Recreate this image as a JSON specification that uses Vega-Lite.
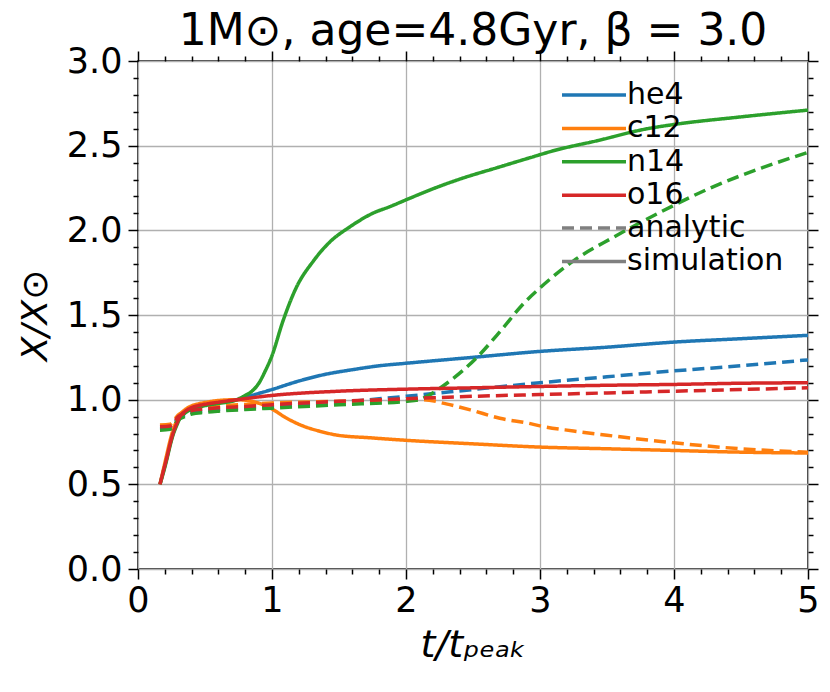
{
  "$schema": "https://vega.github.io/schema/vega-lite/v6.json",
  "width": 670,
  "height": 508,
  "autosize": {"type": "none"},
  "padding": {"left": 138, "top": 61, "right": 22, "bottom": 123},
  "background": "white",
  "config": {
    "font": "DejaVu Sans",
    "view": {"stroke": "black", "strokeWidth": 1.5},
    "axis": {"labelFont": "DejaVu Sans", "titleFont": "DejaVu Sans", "titleFontWeight": "normal", "labelColor": "black", "titleColor": "black", "tickColor": "black", "tickWidth": 1.5, "domain": false, "gridColor": "#b0b0b0", "gridWidth": 1.3},
    "legend": {"labelFont": "DejaVu Sans", "labelColor": "black"}
  },
  "title": {"text": "1M⊙, age=4.8Gyr, β = 3.0", "fontSize": 44, "font": "DejaVu Sans", "fontWeight": "normal", "anchor": "middle", "frame": "group", "offset": -10, "color": "black"},
  "datasets": {
    "d": [
      {"s":"he4","k":"analytic","t":0.164,"y":0.83},{"s":"he4","k":"analytic","t":0.24,"y":0.835},{"s":"he4","k":"analytic","t":0.27,"y":0.86},{"s":"he4","k":"analytic","t":0.3,"y":0.89},{"s":"he4","k":"analytic","t":0.35,"y":0.91},{"s":"he4","k":"analytic","t":0.4,"y":0.925},{"s":"he4","k":"analytic","t":0.5,"y":0.935},{"s":"he4","k":"analytic","t":0.6,"y":0.942},{"s":"he4","k":"analytic","t":0.8,"y":0.952},{"s":"he4","k":"analytic","t":1.0,"y":0.96},{"s":"he4","k":"analytic","t":1.5,"y":0.985},{"s":"he4","k":"analytic","t":1.8,"y":1.005},{"s":"he4","k":"analytic","t":2.0,"y":1.02},{"s":"he4","k":"analytic","t":2.5,"y":1.06},{"s":"he4","k":"analytic","t":3.0,"y":1.10},{"s":"he4","k":"analytic","t":3.5,"y":1.135},{"s":"he4","k":"analytic","t":4.0,"y":1.17},{"s":"he4","k":"analytic","t":4.5,"y":1.20},{"s":"he4","k":"analytic","t":5.0,"y":1.235},
      {"s":"he4","k":"simulation","t":0.164,"y":0.50},{"s":"he4","k":"simulation","t":0.19,"y":0.58},{"s":"he4","k":"simulation","t":0.216,"y":0.66},{"s":"he4","k":"simulation","t":0.24,"y":0.74},{"s":"he4","k":"simulation","t":0.261,"y":0.80},{"s":"he4","k":"simulation","t":0.29,"y":0.86},{"s":"he4","k":"simulation","t":0.313,"y":0.90},{"s":"he4","k":"simulation","t":0.35,"y":0.93},{"s":"he4","k":"simulation","t":0.39,"y":0.95},{"s":"he4","k":"simulation","t":0.45,"y":0.965},{"s":"he4","k":"simulation","t":0.515,"y":0.975},{"s":"he4","k":"simulation","t":0.6,"y":0.985},{"s":"he4","k":"simulation","t":0.74,"y":1.0},{"s":"he4","k":"simulation","t":0.85,"y":1.025},{"s":"he4","k":"simulation","t":1.0,"y":1.06},{"s":"he4","k":"simulation","t":1.2,"y":1.11},{"s":"he4","k":"simulation","t":1.4,"y":1.15},{"s":"he4","k":"simulation","t":1.6,"y":1.177},{"s":"he4","k":"simulation","t":1.8,"y":1.20},{"s":"he4","k":"simulation","t":2.0,"y":1.215},{"s":"he4","k":"simulation","t":2.5,"y":1.25},{"s":"he4","k":"simulation","t":3.0,"y":1.285},{"s":"he4","k":"simulation","t":3.5,"y":1.31},{"s":"he4","k":"simulation","t":4.0,"y":1.34},{"s":"he4","k":"simulation","t":4.5,"y":1.36},{"s":"he4","k":"simulation","t":5.0,"y":1.38},
      {"s":"c12","k":"analytic","t":0.164,"y":0.85},{"s":"c12","k":"analytic","t":0.24,"y":0.855},{"s":"c12","k":"analytic","t":0.27,"y":0.88},{"s":"c12","k":"analytic","t":0.3,"y":0.91},{"s":"c12","k":"analytic","t":0.35,"y":0.93},{"s":"c12","k":"analytic","t":0.4,"y":0.945},{"s":"c12","k":"analytic","t":0.5,"y":0.955},{"s":"c12","k":"analytic","t":0.6,"y":0.962},{"s":"c12","k":"analytic","t":0.8,"y":0.972},{"s":"c12","k":"analytic","t":1.0,"y":0.98},{"s":"c12","k":"analytic","t":1.5,"y":0.99},{"s":"c12","k":"analytic","t":2.0,"y":1.0},{"s":"c12","k":"analytic","t":2.13,"y":1.0},{"s":"c12","k":"analytic","t":2.3,"y":0.975},{"s":"c12","k":"analytic","t":2.48,"y":0.94},{"s":"c12","k":"analytic","t":2.7,"y":0.89},{"s":"c12","k":"analytic","t":2.92,"y":0.86},{"s":"c12","k":"analytic","t":3.0,"y":0.845},{"s":"c12","k":"analytic","t":3.25,"y":0.815},{"s":"c12","k":"analytic","t":3.5,"y":0.79},{"s":"c12","k":"analytic","t":4.0,"y":0.745},{"s":"c12","k":"analytic","t":4.5,"y":0.71},{"s":"c12","k":"analytic","t":5.0,"y":0.69},
      {"s":"c12","k":"simulation","t":0.164,"y":0.50},{"s":"c12","k":"simulation","t":0.19,"y":0.59},{"s":"c12","k":"simulation","t":0.216,"y":0.68},{"s":"c12","k":"simulation","t":0.24,"y":0.76},{"s":"c12","k":"simulation","t":0.261,"y":0.82},{"s":"c12","k":"simulation","t":0.29,"y":0.875},{"s":"c12","k":"simulation","t":0.313,"y":0.91},{"s":"c12","k":"simulation","t":0.35,"y":0.94},{"s":"c12","k":"simulation","t":0.39,"y":0.96},{"s":"c12","k":"simulation","t":0.45,"y":0.975},{"s":"c12","k":"simulation","t":0.515,"y":0.985},{"s":"c12","k":"simulation","t":0.6,"y":0.995},{"s":"c12","k":"simulation","t":0.74,"y":1.0},{"s":"c12","k":"simulation","t":0.85,"y":0.99},{"s":"c12","k":"simulation","t":0.95,"y":0.965},{"s":"c12","k":"simulation","t":1.0,"y":0.945},{"s":"c12","k":"simulation","t":1.1,"y":0.895},{"s":"c12","k":"simulation","t":1.23,"y":0.845},{"s":"c12","k":"simulation","t":1.35,"y":0.815},{"s":"c12","k":"simulation","t":1.49,"y":0.79},{"s":"c12","k":"simulation","t":1.73,"y":0.775},{"s":"c12","k":"simulation","t":2.0,"y":0.76},{"s":"c12","k":"simulation","t":2.48,"y":0.74},{"s":"c12","k":"simulation","t":3.0,"y":0.72},{"s":"c12","k":"simulation","t":3.5,"y":0.71},{"s":"c12","k":"simulation","t":4.0,"y":0.70},{"s":"c12","k":"simulation","t":4.5,"y":0.69},{"s":"c12","k":"simulation","t":5.0,"y":0.685},
      {"s":"n14","k":"analytic","t":0.164,"y":0.82},{"s":"n14","k":"analytic","t":0.24,"y":0.825},{"s":"n14","k":"analytic","t":0.27,"y":0.85},{"s":"n14","k":"analytic","t":0.3,"y":0.88},{"s":"n14","k":"analytic","t":0.35,"y":0.90},{"s":"n14","k":"analytic","t":0.4,"y":0.915},{"s":"n14","k":"analytic","t":0.5,"y":0.925},{"s":"n14","k":"analytic","t":0.6,"y":0.932},{"s":"n14","k":"analytic","t":0.8,"y":0.942},{"s":"n14","k":"analytic","t":1.0,"y":0.95},{"s":"n14","k":"analytic","t":1.5,"y":0.97},{"s":"n14","k":"analytic","t":2.0,"y":0.99},{"s":"n14","k":"analytic","t":2.1,"y":1.0},{"s":"n14","k":"analytic","t":2.2,"y":1.04},{"s":"n14","k":"analytic","t":2.31,"y":1.10},{"s":"n14","k":"analytic","t":2.53,"y":1.25},{"s":"n14","k":"analytic","t":2.71,"y":1.41},{"s":"n14","k":"analytic","t":2.88,"y":1.57},{"s":"n14","k":"analytic","t":3.0,"y":1.66},{"s":"n14","k":"analytic","t":3.25,"y":1.82},{"s":"n14","k":"analytic","t":3.55,"y":1.96},{"s":"n14","k":"analytic","t":3.88,"y":2.10},{"s":"n14","k":"analytic","t":4.3,"y":2.26},{"s":"n14","k":"analytic","t":4.66,"y":2.37},{"s":"n14","k":"analytic","t":5.0,"y":2.46},
      {"s":"n14","k":"simulation","t":0.164,"y":0.50},{"s":"n14","k":"simulation","t":0.19,"y":0.57},{"s":"n14","k":"simulation","t":0.216,"y":0.65},{"s":"n14","k":"simulation","t":0.24,"y":0.73},{"s":"n14","k":"simulation","t":0.261,"y":0.79},{"s":"n14","k":"simulation","t":0.29,"y":0.85},{"s":"n14","k":"simulation","t":0.313,"y":0.89},{"s":"n14","k":"simulation","t":0.35,"y":0.92},{"s":"n14","k":"simulation","t":0.39,"y":0.94},{"s":"n14","k":"simulation","t":0.45,"y":0.955},{"s":"n14","k":"simulation","t":0.515,"y":0.967},{"s":"n14","k":"simulation","t":0.6,"y":0.978},{"s":"n14","k":"simulation","t":0.72,"y":0.995},{"s":"n14","k":"simulation","t":0.8,"y":1.025},{"s":"n14","k":"simulation","t":0.85,"y":1.05},{"s":"n14","k":"simulation","t":0.9,"y":1.095},{"s":"n14","k":"simulation","t":0.95,"y":1.17},{"s":"n14","k":"simulation","t":1.0,"y":1.26},{"s":"n14","k":"simulation","t":1.08,"y":1.46},{"s":"n14","k":"simulation","t":1.18,"y":1.66},{"s":"n14","k":"simulation","t":1.31,"y":1.82},{"s":"n14","k":"simulation","t":1.43,"y":1.93},{"s":"n14","k":"simulation","t":1.58,"y":2.02},{"s":"n14","k":"simulation","t":1.75,"y":2.10},{"s":"n14","k":"simulation","t":1.88,"y":2.14},{"s":"n14","k":"simulation","t":2.03,"y":2.19},{"s":"n14","k":"simulation","t":2.25,"y":2.26},{"s":"n14","k":"simulation","t":2.43,"y":2.31},{"s":"n14","k":"simulation","t":2.68,"y":2.37},{"s":"n14","k":"simulation","t":2.93,"y":2.43},{"s":"n14","k":"simulation","t":3.1,"y":2.47},{"s":"n14","k":"simulation","t":3.43,"y":2.53},{"s":"n14","k":"simulation","t":3.8,"y":2.60},{"s":"n14","k":"simulation","t":4.0,"y":2.625},{"s":"n14","k":"simulation","t":4.5,"y":2.67},{"s":"n14","k":"simulation","t":5.0,"y":2.71},
      {"s":"o16","k":"analytic","t":0.164,"y":0.84},{"s":"o16","k":"analytic","t":0.24,"y":0.845},{"s":"o16","k":"analytic","t":0.27,"y":0.87},{"s":"o16","k":"analytic","t":0.3,"y":0.90},{"s":"o16","k":"analytic","t":0.35,"y":0.92},{"s":"o16","k":"analytic","t":0.4,"y":0.935},{"s":"o16","k":"analytic","t":0.5,"y":0.945},{"s":"o16","k":"analytic","t":0.6,"y":0.952},{"s":"o16","k":"analytic","t":0.8,"y":0.96},{"s":"o16","k":"analytic","t":1.0,"y":0.97},{"s":"o16","k":"analytic","t":1.5,"y":0.99},{"s":"o16","k":"analytic","t":2.0,"y":1.005},{"s":"o16","k":"analytic","t":2.5,"y":1.02},{"s":"o16","k":"analytic","t":3.0,"y":1.03},{"s":"o16","k":"analytic","t":3.5,"y":1.04},{"s":"o16","k":"analytic","t":4.0,"y":1.05},{"s":"o16","k":"analytic","t":4.5,"y":1.06},{"s":"o16","k":"analytic","t":5.0,"y":1.07},
      {"s":"o16","k":"simulation","t":0.164,"y":0.50},{"s":"o16","k":"simulation","t":0.19,"y":0.58},{"s":"o16","k":"simulation","t":0.216,"y":0.66},{"s":"o16","k":"simulation","t":0.24,"y":0.74},{"s":"o16","k":"simulation","t":0.261,"y":0.80},{"s":"o16","k":"simulation","t":0.29,"y":0.86},{"s":"o16","k":"simulation","t":0.313,"y":0.90},{"s":"o16","k":"simulation","t":0.35,"y":0.93},{"s":"o16","k":"simulation","t":0.39,"y":0.95},{"s":"o16","k":"simulation","t":0.45,"y":0.965},{"s":"o16","k":"simulation","t":0.515,"y":0.975},{"s":"o16","k":"simulation","t":0.6,"y":0.985},{"s":"o16","k":"simulation","t":0.74,"y":1.0},{"s":"o16","k":"simulation","t":1.0,"y":1.025},{"s":"o16","k":"simulation","t":1.5,"y":1.05},{"s":"o16","k":"simulation","t":2.0,"y":1.062},{"s":"o16","k":"simulation","t":2.5,"y":1.07},{"s":"o16","k":"simulation","t":3.0,"y":1.078},{"s":"o16","k":"simulation","t":3.5,"y":1.085},{"s":"o16","k":"simulation","t":4.0,"y":1.09},{"s":"o16","k":"simulation","t":4.5,"y":1.097},{"s":"o16","k":"simulation","t":5.0,"y":1.10}
    ]
  },
  "data": {"name": "d"},
  "layer": [
    {
      "mark": {"type": "line", "strokeWidth": 3.5, "clip": true, "interpolate": "monotone"},
      "encoding": {
        "x": {"field": "t", "type": "quantitative", "scale": {"domain": [0, 5], "nice": false},
          "axis": {"orient": "bottom", "title": "t/tₚₑₐₖ", "titleFontSize": 38, "titleFontStyle": "italic", "titlePadding": 8, "labelFontSize": 35, "labelPadding": 4, "labelOverlap": false, "labelFlush": false,
            "values": [0,0.2,0.4,0.6,0.8,1,1.2,1.4,1.6,1.8,2,2.2,2.4,2.6,2.8,3,3.2,3.4,3.6,3.8,4,4.2,4.4,4.6,4.8,5],
            "labelExpr": "abs(datum.value - round(datum.value)) < 0.001 ? format(datum.value, 'd') : ''",
            "tickSize": {"condition": {"test": "abs(datum.value - round(datum.value)) < 0.001", "value": 10}, "value": 5},
            "gridOpacity": {"condition": {"test": "abs(datum.value - round(datum.value)) < 0.001", "value": 1}, "value": 0}}},
        "y": {"field": "y", "type": "quantitative", "scale": {"domain": [0, 3], "nice": false, "zero": false},
          "axis": {"orient": "left", "title": "X/X⊙", "titleFontSize": 36, "titleFontStyle": "italic", "titlePadding": 12, "labelFontSize": 35, "labelPadding": 6, "labelOverlap": false, "labelFlush": false,
            "values": [0,0.1,0.2,0.3,0.4,0.5,0.6,0.7,0.8,0.9,1,1.1,1.2,1.3,1.4,1.5,1.6,1.7,1.8,1.9,2,2.1,2.2,2.3,2.4,2.5,2.6,2.7,2.8,2.9,3],
            "labelExpr": "abs(datum.value*2 - round(datum.value*2)) < 0.001 ? format(datum.value, '.1f') : ''",
            "tickSize": {"condition": {"test": "abs(datum.value*2 - round(datum.value*2)) < 0.001", "value": 10}, "value": 5},
            "gridOpacity": {"condition": {"test": "abs(datum.value*2 - round(datum.value*2)) < 0.001", "value": 1}, "value": 0}}},
        "color": {"field": "s", "type": "nominal", "scale": {"domain": ["he4", "c12", "n14", "o16"], "range": ["#1f77b4", "#ff7f0e", "#2ca02c", "#d62728"]},
          "legend": {"orient": "none", "legendX": 424, "legendY": 19, "title": null, "padding": 0, "rowPadding": 3.4, "symbolType": "M-4,0H4", "symbolSize": 256, "symbolStrokeWidth": 3.5, "symbolOffset": 17, "labelOffset": 18, "labelFontSize": 30}},
        "strokeDash": {"field": "k", "type": "nominal", "scale": {"domain": ["analytic", "simulation"], "range": [[12, 6], [1, 0]]},
          "legend": {"orient": "none", "legendX": 424, "legendY": 152, "title": null, "padding": 0, "rowPadding": 3.4, "symbolType": "M-4,0H4", "symbolSize": 256, "symbolStrokeWidth": 3.5, "symbolOffset": 17, "labelOffset": 18, "labelFontSize": 30, "symbolStrokeColor": "#808080"}}
      }
    },
    {
      "mark": {"type": "point", "opacity": 0},
      "encoding": {
        "x": {"field": "t", "type": "quantitative", "scale": {"domain": [0, 5], "nice": false},
          "axis": {"orient": "top", "title": null, "labels": false, "grid": false,
            "values": [0,0.2,0.4,0.6,0.8,1,1.2,1.4,1.6,1.8,2,2.2,2.4,2.6,2.8,3,3.2,3.4,3.6,3.8,4,4.2,4.4,4.6,4.8,5],
            "tickSize": {"condition": {"test": "abs(datum.value - round(datum.value)) < 0.001", "value": 10}, "value": 5}}},
        "y": {"field": "y", "type": "quantitative", "scale": {"domain": [0, 3], "nice": false, "zero": false},
          "axis": {"orient": "right", "title": null, "labels": false, "grid": false,
            "values": [0,0.1,0.2,0.3,0.4,0.5,0.6,0.7,0.8,0.9,1,1.1,1.2,1.3,1.4,1.5,1.6,1.7,1.8,1.9,2,2.1,2.2,2.3,2.4,2.5,2.6,2.7,2.8,2.9,3],
            "tickSize": {"condition": {"test": "abs(datum.value*2 - round(datum.value*2)) < 0.001", "value": 10}, "value": 5}}}
      }
    }
  ],
  "resolve": {"scale": {"x": "independent", "y": "independent"}, "axis": {"x": "independent", "y": "independent"}}
}
